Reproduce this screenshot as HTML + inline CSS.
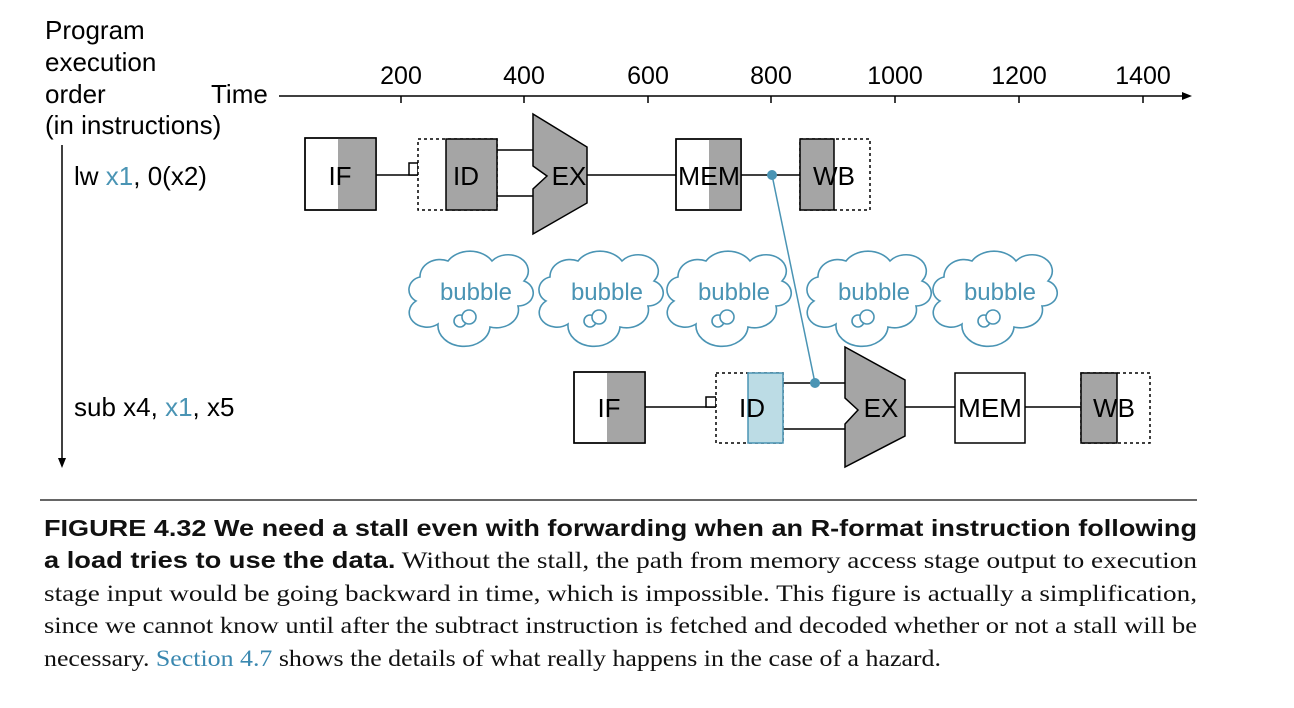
<!DOCTYPE html>
<html><head><meta charset="utf-8"><style>
html,body{margin:0;padding:0;background:#fff;}
svg{display:block;}
</style></head><body>
<svg width="1294" height="708" viewBox="0 0 1294 708" xmlns="http://www.w3.org/2000/svg">
<defs>
<g id="cloud">
<path d="M -52,10 A 14 13 0 0 1 -48,-14 A 20 17 0 0 1 -20,-30 A 26 21 0 0 1 24,-30 A 20 16 0 0 1 56,-10 A 15 13 0 0 1 50,15 A 22 18 0 0 1 22,36 A 25 20 0 0 1 -30,33 A 17 14 0 0 1 -52,10 Z" fill="#fff" stroke="#4a94b4" stroke-width="1.6"/>
<circle cx="-8" cy="30" r="6" fill="#fff" stroke="#4a94b4" stroke-width="1.6"/>
<circle cx="1" cy="26" r="7" fill="#fff" stroke="#4a94b4" stroke-width="1.6"/>
</g>
</defs>
<g font-family="Liberation Sans, sans-serif" font-size="26" fill="#000">
<text x="45" y="39">Program</text>
<text x="45" y="71">execution</text>
<text x="45" y="103">order</text>
<text x="211" y="103">Time</text>
<text x="45" y="134">(in instructions)</text>
<text x="74" y="185">lw <tspan fill="#4a94b4">x1</tspan>, 0(x2)</text>
<text x="74" y="416">sub x4, <tspan fill="#4a94b4">x1</tspan>, x5</text>
<g text-anchor="middle" font-size="25">
<text x="401" y="84">200</text><text x="524" y="84">400</text><text x="648" y="84">600</text>
<text x="771" y="84">800</text><text x="895" y="84">1000</text><text x="1019" y="84">1200</text><text x="1143" y="84">1400</text>
</g>
</g>
<g stroke="#000" stroke-width="1.5">
<line x1="279" y1="96" x2="1184" y2="96"/>
<line x1="401" y1="96" x2="401" y2="103"/><line x1="524" y1="96" x2="524" y2="103"/><line x1="648" y1="96" x2="648" y2="103"/>
<line x1="771" y1="96" x2="771" y2="103"/><line x1="895" y1="96" x2="895" y2="103"/><line x1="1019" y1="96" x2="1019" y2="103"/><line x1="1143" y1="96" x2="1143" y2="103"/>
<line x1="62" y1="145" x2="62" y2="460"/>
</g>
<polygon points="1192,96 1182,92 1182,100" fill="#000"/>
<polygon points="62,468 58,458 66,458" fill="#000"/>

<!-- Row 1 -->
<g stroke="#000" stroke-width="1.5">
<rect x="305" y="138" width="71" height="72" fill="#fff"/>
<rect x="338" y="138" width="38" height="72" fill="#a5a5a5" stroke="none"/>
<rect x="305" y="138" width="71" height="72" fill="none"/>
<line x1="376" y1="175" x2="418" y2="175"/>
<rect x="409" y="163" width="9" height="12" fill="#fff"/>
<rect x="418" y="139" width="79" height="71" fill="#fff" stroke-dasharray="3,3"/>
<rect x="446" y="139" width="51" height="71" fill="#a5a5a5"/>
<line x1="497" y1="150" x2="533" y2="150"/><line x1="497" y1="196" x2="533" y2="196"/>
<polygon points="533,114 587,147 587,203 533,234 533,189 547,176 533,166" fill="#a5a5a5"/>
<line x1="587" y1="175" x2="676" y2="175"/>
<rect x="676" y="139" width="65" height="71" fill="#fff"/>
<rect x="709" y="139" width="32" height="71" fill="#a5a5a5" stroke="none"/>
<rect x="676" y="139" width="65" height="71" fill="none"/>
<line x1="741" y1="175" x2="800" y2="175"/>
<rect x="800" y="139" width="70" height="71" fill="#fff" stroke-dasharray="3,3"/>
<rect x="800" y="139" width="34" height="71" fill="#a5a5a5"/>
</g>
<g font-family="Liberation Sans, sans-serif" font-size="26" text-anchor="middle">
<text x="340" y="185">IF</text><text x="466" y="185">ID</text><text x="569" y="185">EX</text>
<text x="709" y="185" textLength="62" lengthAdjust="spacingAndGlyphs">MEM</text><text x="834" y="185">WB</text>
</g>

<!-- Row 2 -->
<g stroke="#000" stroke-width="1.5">
<rect x="574" y="372" width="71" height="71" fill="#fff"/>
<rect x="607" y="372" width="38" height="71" fill="#a5a5a5" stroke="none"/>
<rect x="574" y="372" width="71" height="71" fill="none"/>
<line x1="645" y1="407" x2="716" y2="407"/>
<rect x="706" y="397" width="10" height="10" fill="#fff"/>
<rect x="716" y="373" width="67" height="70" fill="#fff" stroke-dasharray="3,3"/>
<line x1="783" y1="383" x2="845" y2="383"/><line x1="783" y1="429" x2="845" y2="429"/>
<polygon points="845,347 905,380 905,436 845,467 845,424 858,410 845,398" fill="#a5a5a5"/>
<line x1="905" y1="407" x2="955" y2="407"/>
<rect x="955" y="373" width="70" height="70" fill="#fff"/>
<line x1="1025" y1="407" x2="1081" y2="407"/>
<rect x="1081" y="373" width="69" height="70" fill="#fff" stroke-dasharray="3,3"/>
<rect x="1081" y="373" width="36" height="70" fill="#a5a5a5"/>
</g>
<rect x="748" y="373" width="35" height="70" fill="#bcdce5" stroke="#4a94b4" stroke-width="1.5"/>
<g font-family="Liberation Sans, sans-serif" font-size="26" text-anchor="middle">
<text x="609" y="417">IF</text><text x="752" y="417">ID</text><text x="881" y="417">EX</text>
<text x="990" y="417" textLength="64" lengthAdjust="spacingAndGlyphs">MEM</text><text x="1114" y="417">WB</text>
</g>

<line x1="772" y1="175" x2="815" y2="383" stroke="#4a94b4" stroke-width="1.5"/>
<circle cx="772" cy="175" r="5" fill="#4a94b4"/>
<circle cx="815" cy="383" r="5" fill="#4a94b4"/>

<!-- bubbles -->
<g font-family="Liberation Sans, sans-serif" font-size="24" fill="#4a94b4" text-anchor="middle">
<use href="#cloud" x="468" y="291"/><text x="476" y="300">bubble</text>
<use href="#cloud" x="598" y="291"/><text x="607" y="300">bubble</text>
<use href="#cloud" x="726" y="291"/><text x="734" y="300">bubble</text>
<use href="#cloud" x="866" y="291"/><text x="874" y="300">bubble</text>
<use href="#cloud" x="992" y="291"/><text x="1000" y="300">bubble</text>
</g>

<!-- caption -->
<line x1="40" y1="500" x2="1197" y2="500" stroke="#333" stroke-width="1.5"/>
<g font-family="Liberation Serif, serif" font-size="23" fill="#111">
<text x="44" y="536" font-family="Liberation Sans, sans-serif" font-weight="bold" font-size="23" textLength="1153" lengthAdjust="spacingAndGlyphs">FIGURE 4.32    We need a stall even with forwarding when an R-format instruction following</text>
<text x="44" y="568" textLength="1153" lengthAdjust="spacingAndGlyphs"><tspan font-family="Liberation Sans, sans-serif" font-weight="bold">a load tries to use the data.</tspan> Without the stall, the path from memory access stage output to execution</text>
<text x="44" y="601" textLength="1153" lengthAdjust="spacingAndGlyphs">stage input would be going backward in time, which is impossible. This figure is actually a simplification,</text>
<text x="44" y="633" textLength="1153" lengthAdjust="spacingAndGlyphs">since we cannot know until after the subtract instruction is fetched and decoded whether or not a stall will be</text>
<text x="44" y="666" textLength="897" lengthAdjust="spacingAndGlyphs">necessary. <tspan fill="#3a88b0">Section 4.7</tspan> shows the details of what really happens in the case of a hazard.</text>
</g>
</svg>
</body></html>
